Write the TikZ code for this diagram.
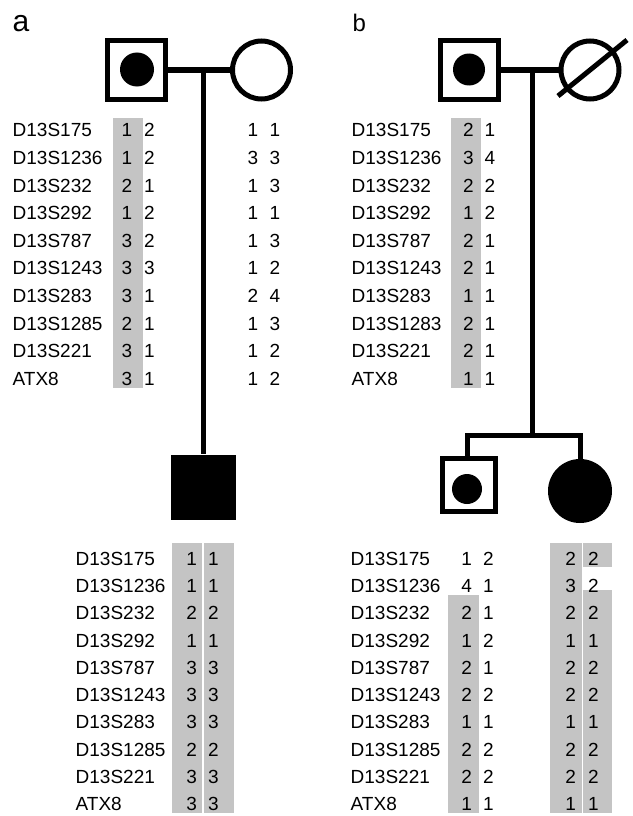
\documentclass[tikz,border=0pt]{standalone}
\usepackage{fontspec}
\setmainfont{Liberation Sans}
\begin{document}
\begin{tikzpicture}[x=1pt,y=-1pt,
  txt/.style={inner sep=0pt, font=\fontsize{19}{22}\selectfont},
  lbl/.style={txt, anchor=base west},
  al/.style={txt, anchor=base},
  band/.style={fill=black!23, draw=none},
  pline/.style={line width=5pt},
  sqb/.style={draw, rectangle, line width=5pt, minimum size=58pt, inner sep=0pt},
  cib/.style={draw, circle, line width=5pt, minimum size=58pt, inner sep=0pt},
  dot/.style={circle, fill=black, draw=none, minimum size=34pt, inner sep=0pt},
  fsq/.style={rectangle, fill=black, draw=none, minimum size=65pt, inner sep=0pt},
  fci/.style={circle, fill=black, draw=none, minimum size=64pt, inner sep=0pt},
  panel/.style={inner sep=0pt, anchor=base west}]
\useasboundingbox (0,0) rectangle (632,816);

% panel labels
\node[panel, font=\fontsize{30}{32}\selectfont] (labA) at (12.5,32) {a};
\node[panel, font=\fontsize{24}{26}\selectfont] (labB) at (352.5,32) {b};

% shading bands
\fill[band] (113,118) rectangle (143,388);
\fill[band] (451,118) rectangle (481,388);
\fill[band] (172,543) rectangle (202,813);
\fill[band] (204,543) rectangle (234,813);
\fill[band] (448,595) rectangle (479,813);
\fill[band] (550,543) rectangle (582,813);
\fill[band] (583,543) rectangle (612,567);
\fill[band] (583,590) rectangle (612,813);

% ---------- panel a pedigree ----------
\node[sqb] (faA) at (136.5,70) {};
\node[dot] (faAd) at (137,69.5) {};
\node[cib] (moA) at (261.5,70) {};
\draw[pline] (faA.east) -- (moA.west);
\coordinate (mA) at (203,70);
\node[fsq] (chA) at (203,487) {};
\draw[pline] (mA) -- (chA.north);

% ---------- panel b pedigree ----------
\node[sqb] (faB) at (469.5,70) {};
\node[dot, minimum size=32pt] (faBd) at (469,69.5) {};
\node[cib] (moB) at (590,70) {};
\draw[pline] (faB.east) -- (moB.west);
\draw[pline] ([shift={(-32,26)}]moB.center) -- ([shift={(37,-30)}]moB.center);
\coordinate (mB) at (532,70);
\coordinate (sB) at (532,435);
\coordinate (sL) at (467,435);
\coordinate (sR) at (580,435);
\node[sqb, minimum size=53pt] (sonB) at (469,484.5) {};
\node[dot, minimum size=30pt] (sonBd) at (467,489) {};
\node[fci] (dauB) at (580,491) {};
\draw[pline] (mB) -- (sB);
\draw[pline, line join=miter] (sonB.north -| sL) -- (sL) -- (sR) -- (dauB.north);

% ---------- panel a, parents' haplotypes ----------
\foreach \lab/\p/\q/\m/\n [count=\i from 0] in
 {D13S175/1/2/1/1, D13S1236/1/2/3/3, D13S232/2/1/1/3, D13S292/1/2/1/1,
  D13S787/3/2/1/3, D13S1243/3/3/1/2, D13S283/3/1/2/4, D13S1285/2/1/1/3,
  D13S221/3/1/1/2, ATX8/3/1/1/2}{
  \pgfmathsetmacro\yb{136.8+27.6*\i}
  \node[lbl] (aL\i) at (12.5,\yb) {\lab};
  \node[al] (aFa\i) at (127,\yb) {\p};
  \node[al] (aFb\i) at (149.5,\yb) {\q};
  \node[al] (aMa\i) at (253,\yb) {\m};
  \node[al] (aMb\i) at (275,\yb) {\n};
}

% ---------- panel b, father's haplotypes ----------
\foreach \lab/\p/\q [count=\i from 0] in
 {D13S175/2/1, D13S1236/3/4, D13S232/2/2, D13S292/1/2, D13S787/2/1,
  D13S1243/2/1, D13S283/1/1, D13S1283/2/1, D13S221/2/1, ATX8/1/1}{
  \pgfmathsetmacro\yb{136.8+27.6*\i}
  \node[lbl] (bL\i) at (351.5,\yb) {\lab};
  \node[al] (bFa\i) at (468.3,\yb) {\p};
  \node[al] (bFb\i) at (490,\yb) {\q};
}

% ---------- panel a, child ----------
\foreach \lab/\p/\q [count=\i from 0] in
 {D13S175/1/1, D13S1236/1/1, D13S232/2/2, D13S292/1/1, D13S787/3/3,
  D13S1243/3/3, D13S283/3/3, D13S1285/2/2, D13S221/3/3, ATX8/3/3}{
  \pgfmathsetmacro\yb{565.1+27.3*\i}
  \node[lbl] (cL\i) at (75.5,\yb) {\lab};
  \node[al] (cA\i) at (191.7,\yb) {\p};
  \node[al] (cB\i) at (213.3,\yb) {\q};
}

% ---------- panel b, children ----------
\foreach \lab/\p/\q/\m/\n [count=\i from 0] in
 {D13S175/1/2/2/2, D13S1236/4/1/3/2, D13S232/2/1/2/2, D13S292/1/2/1/1,
  D13S787/2/1/2/2, D13S1243/2/2/2/2, D13S283/1/1/1/1, D13S1285/2/2/2/2,
  D13S221/2/2/2/2, ATX8/1/1/1/1}{
  \pgfmathsetmacro\yb{565.1+27.3*\i}
  \node[lbl] (dL\i) at (350.5,\yb) {\lab};
  \node[al] (dSa\i) at (466.7,\yb) {\p};
  \node[al] (dSb\i) at (488.3,\yb) {\q};
  \node[al] (dDa\i) at (570.7,\yb) {\m};
  \node[al] (dDb\i) at (593.3,\yb) {\n};
}
\end{tikzpicture}
\end{document}
